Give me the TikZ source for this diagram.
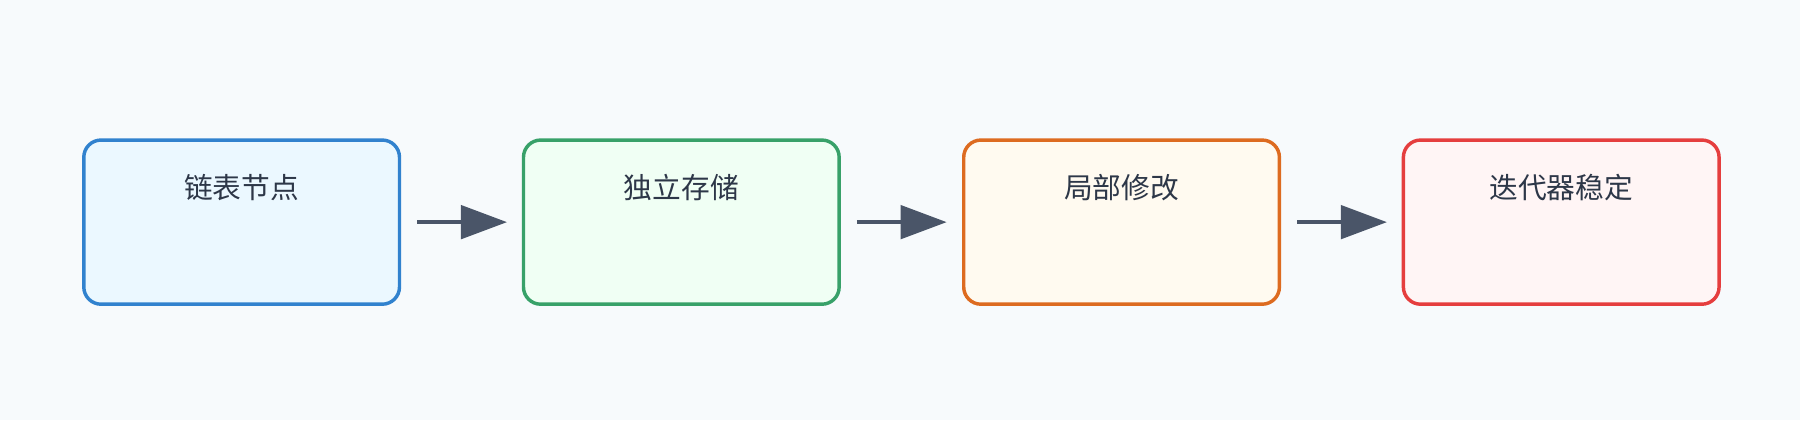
\documentclass[tikz,border=0pt]{standalone}
\usepackage{fontspec}
\newfontfamily\cjk{Noto Sans CJK SC}
\begin{document}
\begin{tikzpicture}[x=1pt,y=-1pt,
  box/.style={draw=#1!80!black!100, line width=3pt, rounded corners=15pt, minimum width=275pt, minimum height=143pt, inner sep=0pt},
  lbl/.style={text=txt, font=\cjk\fontsize{25}{30}\selectfont},
  arr/.style={draw=arc, line width=4pt}]
\definecolor{bg}{HTML}{F7FAFC}
\definecolor{txt}{HTML}{2D3748}
\definecolor{arc}{HTML}{4A5568}
\definecolor{cb}{HTML}{3182CE}\definecolor{fb}{HTML}{EBF8FF}
\definecolor{cg}{HTML}{38A169}\definecolor{fg}{HTML}{F0FFF4}
\definecolor{co}{HTML}{DD6B20}\definecolor{fo}{HTML}{FFFAF0}
\definecolor{cr}{HTML}{E53E3E}\definecolor{fr}{HTML}{FFF5F5}
\fill[bg] (0,0) rectangle (1568,366);
\useasboundingbox (0,0) rectangle (1568,366);
\foreach \n/\x/\c/\f/\t in {a/210.5/cb/fb/链表节点, b/593.5/cg/fg/独立存储, c/977/co/fo/局部修改, d/1360/cr/fr/迭代器稳定}{
  \node[draw=\c, fill=\f, line width=3pt, rounded corners=15pt, minimum width=275pt, minimum height=143pt, inner sep=0pt] (\n) at (\x,193.5) {};
  \node[lbl] (\n t) at (\x,163) {\t};
}
\foreach \p/\q in {a/b,b/c,c/d}{
  \coordinate (\p s) at ([xshift=14pt]\p.east);
  \coordinate (\p m) at ([xshift=52pt]\p.east);
  \coordinate (\p e) at ([xshift=92pt]\p.east);
  \draw[arr] (\p s) -- (\p m);
  \fill[arc] ([yshift=-15pt]\p m) -- (\p e) -- ([yshift=15pt]\p m) -- cycle;
}
\end{tikzpicture}
\end{document}
